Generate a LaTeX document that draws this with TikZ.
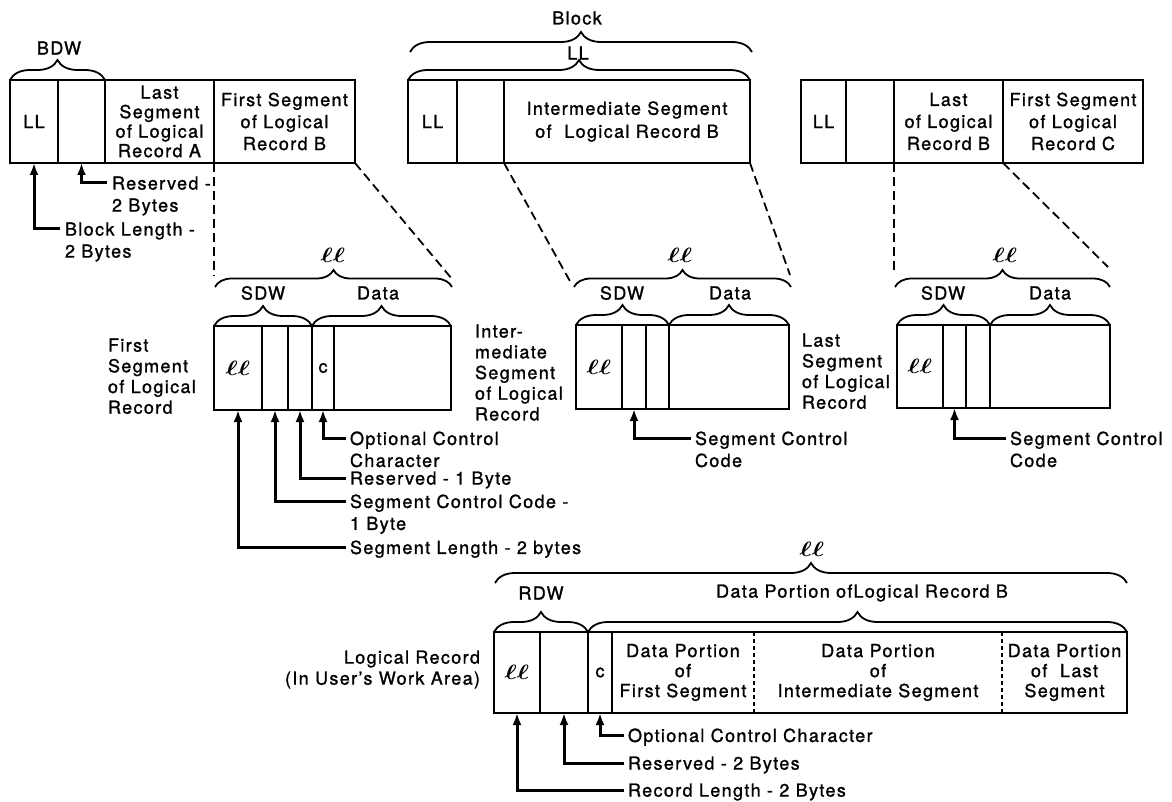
\documentclass[tikz,border=0pt]{standalone}
\usepackage{fontspec}
\setmainfont{TeX Gyre Heros}[LetterSpace=7.5,FakeBold=1.2]
\usepackage{amsmath}
\usepackage{graphicx}
\usetikzlibrary{decorations.pathreplacing,arrows.meta}
\newcommand{\elll}{{\fontsize{22pt}{22pt}\selectfont\scalebox{1.25}[1]{$\boldsymbol{\ell\ell}$}}}
\begin{document}
\begin{tikzpicture}[x=1pt,y=-1pt,line width=2pt,
  font=\fontsize{18pt}{21pt}\selectfont,
  cell/.style={draw,rectangle,inner sep=0pt,outer sep=0pt,anchor=north west,align=center},
  ghost/.style={rectangle,inner sep=0pt,outer sep=0pt,anchor=north west,align=center},
  lab/.style={inner sep=0pt,outer sep=0pt},
  note/.style={inner sep=0pt,outer sep=0pt,anchor=north west,align=left,font=\fontsize{18pt}{22pt}\selectfont},
  side/.style={inner sep=0pt,outer sep=0pt,anchor=north west,align=left,font=\fontsize{18pt}{20.7pt}\selectfont},
  brc/.style={decorate,decoration={brace,amplitude=20pt},line width=1.8pt},
  brcs/.style={decorate,decoration={brace,amplitude=17pt},line width=1.8pt},
  arr/.style={line width=3pt,-{Latex[length=12pt,width=9pt]}},
  dsh/.style={line width=1.8pt,dash pattern=on 9pt off 5pt},
]
\useasboundingbox (0,0) rectangle (1172,802);

% ---------- top block 1 ----------
\node[cell,minimum width=48,minimum height=83] (a1) at (10,80) {LL};
\node[cell,minimum width=47,minimum height=83] (a2) at (58,80) {};
\node[cell,minimum width=109,minimum height=83,font=\fontsize{18pt}{19.5pt}\selectfont] (a3) at (105,80) {Last\\Segment\\of Logical\\Record A};
\node[cell,minimum width=141,minimum height=83,font=\fontsize{18pt}{22pt}\selectfont] (a4) at (214,80) {First Segment\\of Logical\\Record B};
\draw[brc] (a1.north west) -- (a2.north east);
\node[lab] (tbdw) at (59,48) {BDW};

% ---------- top block 2 ----------
\node[cell,minimum width=49,minimum height=83] (b1) at (408,80) {LL};
\node[cell,minimum width=47,minimum height=83] (b2) at (457,80) {};
\node[cell,minimum width=246,minimum height=83,font=\fontsize{18pt}{23pt}\selectfont] (b3) at (504,80) {Intermediate Segment\\of\ \ Logical Record B};
\draw[brc] (b1.north west) -- (b3.north east);
\node[lab] (tll) at (578,53) {LL};
\coordinate (blkL) at (410,52);
\coordinate (blkR) at (752,52);
\draw[brc] (blkL) -- (blkR);
\node[lab] (tblock) at (577,18) {Block};

% ---------- top block 3 ----------
\node[cell,minimum width=45,minimum height=83] (c1) at (801,80) {LL};
\node[cell,minimum width=48,minimum height=83] (c2) at (846,80) {};
\node[cell,minimum width=109,minimum height=83,font=\fontsize{18pt}{22pt}\selectfont] (c3) at (894,80) {Last\\of Logical\\Record B};
\node[cell,minimum width=140,minimum height=83,font=\fontsize{18pt}{22pt}\selectfont] (c4) at (1003,80) {First Segment\\of Logical\\Record C};

% ---------- top-left notes ----------
\node[note] (nres) at (112,176.5) {Reserved -\\2 Bytes};
\node[note] (nblk) at (65,222.5) {Block Length -\\2 Bytes};
\coordinate (hres) at (107,183);
\coordinate (hblk) at (60,229);
\draw[arr] (hres) -| (a2.south);
\draw[arr] (hblk) -| (a1.south);

% ---------- middle segment 1 ----------
\node[cell,minimum width=48,minimum height=84] (m1a) at (214,326) {\elll};
\node[cell,minimum width=26,minimum height=84] (m1b) at (262,326) {};
\node[cell,minimum width=24,minimum height=84] (m1c) at (288,326) {};
\node[cell,minimum width=22,minimum height=84] (m1d) at (312,326) {c};
\node[cell,minimum width=117,minimum height=84] (m1e) at (334,326) {};
\draw[brc] (m1a.north west) -- (m1c.north east);
\draw[brc] (m1d.north west) -- (m1e.north east);
\node[lab] (m1sdw) at (263,293) {SDW};
\node[lab] (m1data) at (378,293) {Data};
\coordinate (m1lL) at (215,287);
\coordinate (m1lR) at (452,287);
\draw[brcs] (m1lL) -- (m1lR);
\node[lab] (m1ll) at (333,255) {\elll};
\node[side] (m1side) at (108,338.5) {First\\Segment\\of Logical\\Record};

\node[note] (n1) at (350,431.5) {Optional Control\\Character};
\node[note] (n2) at (350,471.5) {Reserved - 1 Byte};
\node[note] (n3) at (350,494.5) {Segment Control Code -\\1 Byte};
\node[note] (n4) at (350,540.5) {Segment Length - 2 bytes};
\coordinate (h1) at (346,438);
\coordinate (h2) at (346,478);
\coordinate (h3) at (346,501);
\coordinate (h4) at (346,547);
\draw[arr] (h1) -| (m1d.south);
\draw[arr] (h2) -| (m1c.south);
\draw[arr] (h3) -| (m1b.south);
\draw[arr] (h4) -| (m1a.south);

% ---------- middle segment 2 ----------
\node[cell,minimum width=46,minimum height=84] (m2a) at (576,325) {\elll};
\node[cell,minimum width=24,minimum height=84] (m2b) at (622,325) {};
\node[cell,minimum width=23,minimum height=84] (m2c) at (646,325) {};
\node[cell,minimum width=120,minimum height=84] (m2d) at (669,325) {};
\draw[brc] (m2a.north west) -- (m2c.north east);
\draw[brc] (m2d.north west) -- (m2d.north east);
\node[lab] (m2sdw) at (622,293) {SDW};
\node[lab] (m2data) at (730,293) {Data};
\coordinate (m2lL) at (574,287);
\coordinate (m2lR) at (791,287);
\draw[brcs] (m2lL) -- (m2lR);
\node[lab] (m2ll) at (680,255) {\elll};
\node[side] (m2side) at (475,324.5) {Inter-\\mediate\\Segment\\of Logical\\Record};
\node[note] (n5) at (695,431.5) {Segment Control\\Code};
\coordinate (h5) at (691,438);
\draw[arr] (h5) -| (m2b.south);

% ---------- middle segment 3 ----------
\node[cell,minimum width=46,minimum height=83] (m3a) at (897,325) {\elll};
\node[cell,minimum width=23,minimum height=83] (m3b) at (943,325) {};
\node[cell,minimum width=24,minimum height=83] (m3c) at (966,325) {};
\node[cell,minimum width=120,minimum height=83] (m3d) at (990,325) {};
\draw[brc] (m3a.north west) -- (m3c.north east);
\draw[brc] (m3d.north west) -- (m3d.north east);
\node[lab] (m3sdw) at (943,293) {SDW};
\node[lab] (m3data) at (1050,293) {Data};
\coordinate (m3lL) at (895,287);
\coordinate (m3lR) at (1110,287);
\draw[brcs] (m3lL) -- (m3lR);
\node[lab] (m3ll) at (1005,255) {\elll};
\node[side] (m3side) at (802,333.5) {Last\\Segment\\of Logical\\Record};
\node[note] (n6) at (1010,431.5) {Segment Control\\Code};
\coordinate (h6) at (1006,438);
\draw[arr] (h6) -| (m3b.south);

% ---------- dashed projections ----------
\coordinate (e1) at (214,276);
\coordinate (e2) at (452,279);
\coordinate (e3) at (571,283);
\coordinate (e4) at (790,275);
\coordinate (e5) at (894,273);
\coordinate (e6) at (1108,267);
\draw[dsh] (a4.south west) -- (e1);
\draw[dsh] (a4.south east) -- (e2);
\draw[dsh] (b3.south west) -- (e3);
\draw[dsh] (b3.south east) -- (e4);
\draw[dsh] (c3.south west) -- (e5);
\draw[dsh] (c4.south west) -- (e6);

% ---------- logical record ----------
\node[cell,minimum width=46,minimum height=81] (r1) at (494,632) {\elll};
\node[cell,minimum width=48,minimum height=81] (r2) at (540,632) {};
\node[cell,minimum width=24,minimum height=81] (r3) at (588,632) {c};
\node[cell,minimum width=515,minimum height=81] (rf) at (612,632) {};
\node[ghost,minimum width=142,minimum height=81,font=\fontsize{18pt}{20pt}\selectfont] (d1) at (612,632) {Data Portion\\of\\First Segment};
\node[ghost,minimum width=248,minimum height=81,font=\fontsize{18pt}{20pt}\selectfont] (d2) at (754,632) {Data Portion\\of\\Intermediate Segment};
\node[ghost,minimum width=125,minimum height=81,font=\fontsize{18pt}{20pt}\selectfont] (d3) at (1002,632) {Data Portion\\of\ \ Last\\Segment};
\draw[line width=1.4pt,dash pattern=on 4pt off 3pt] (d1.north east) -- (d1.south east);
\draw[line width=1.4pt,dash pattern=on 4pt off 3pt] (d2.north east) -- (d2.south east);
\draw[brc] (r1.north west) -- (r2.north east);
\draw[brc] (r3.north west) -- (rf.north east);
\node[lab] (trdw) at (541,593) {RDW};
\node[lab] (tdpl) at (862,593) {Data Portion of\kern1pt Logical Record B};
\coordinate (rlL) at (495,583);
\coordinate (rlR) at (1127,583);
\draw[brc] (rlL) -- (rlR);
\node[lab] (rll) at (812,549) {\elll};
\node[inner sep=0pt,outer sep=0pt,anchor=north east,align=right] (rside) at (480,650.5) {Logical Record\\(In User's Work Area)};

\node[note] (n7) at (628,728.5) {Optional Control Character};
\node[note] (n8) at (628,756.5) {Reserved - 2 Bytes};
\node[note] (n9) at (628,783.5) {Record Length - 2 Bytes};
\coordinate (h7) at (624,735);
\coordinate (h8) at (624,763);
\coordinate (h9) at (624,790);
\draw[arr] (h7) -| (r3.south);
\draw[arr] (h8) -| (r2.south);
\draw[arr] (h9) -| (r1.south);
\end{tikzpicture}
\end{document}
